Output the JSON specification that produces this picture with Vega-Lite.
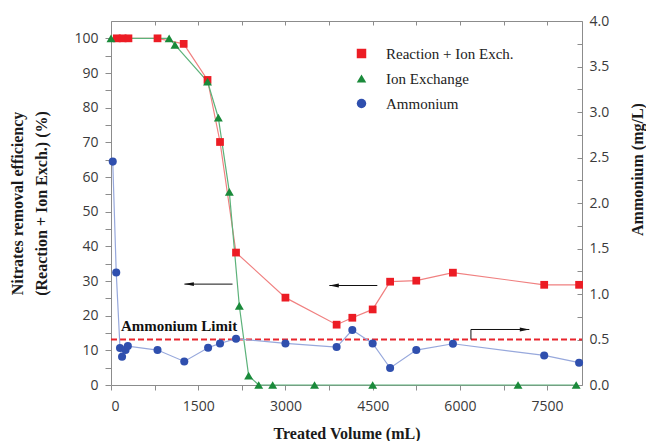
{
  "$schema": "https://vega.github.io/schema/vega-lite/v6.json",
  "width": 471,
  "height": 364,
  "autosize": {"type": "none"},
  "padding": {"left": 111, "top": 21, "right": 64, "bottom": 56},
  "background": "white",
  "config": {
    "view": {"stroke": null},
    "axis": {
      "domainColor": "#8c8c8c",
      "tickColor": "#8c8c8c",
      "labelFont": "Open Sans",
      "labelFontSize": 14,
      "labelColor": "#3a3a3a",
      "titleFont": "Liberation Serif",
      "titleFontSize": 16,
      "titleFontWeight": "bold",
      "titleColor": "#1a1a1a",
      "grid": false
    }
  },
  "datasets": {
    "reaction": [
      {"volume": 100, "efficiency": 100, "series": "Reaction + Ion Exch."},
      {"volume": 200, "efficiency": 100, "series": "Reaction + Ion Exch."},
      {"volume": 300, "efficiency": 100, "series": "Reaction + Ion Exch."},
      {"volume": 800, "efficiency": 100, "series": "Reaction + Ion Exch."},
      {"volume": 1250, "efficiency": 98.4, "series": "Reaction + Ion Exch."},
      {"volume": 1660, "efficiency": 88, "series": "Reaction + Ion Exch."},
      {"volume": 1875, "efficiency": 70.1, "series": "Reaction + Ion Exch."},
      {"volume": 2150, "efficiency": 38.2, "series": "Reaction + Ion Exch."},
      {"volume": 3000, "efficiency": 25.2, "series": "Reaction + Ion Exch."},
      {"volume": 3880, "efficiency": 17.4, "series": "Reaction + Ion Exch."},
      {"volume": 4150, "efficiency": 19.4, "series": "Reaction + Ion Exch."},
      {"volume": 4500, "efficiency": 21.8, "series": "Reaction + Ion Exch."},
      {"volume": 4800, "efficiency": 29.8, "series": "Reaction + Ion Exch."},
      {"volume": 5250, "efficiency": 30.1, "series": "Reaction + Ion Exch."},
      {"volume": 5880, "efficiency": 32.4, "series": "Reaction + Ion Exch."},
      {"volume": 7450, "efficiency": 28.9, "series": "Reaction + Ion Exch."},
      {"volume": 8050, "efficiency": 28.9, "series": "Reaction + Ion Exch."}
    ],
    "ionex": [
      {"volume": 0, "efficiency": 100, "series": "Ion Exchange"},
      {"volume": 1000, "efficiency": 100, "series": "Ion Exchange"},
      {"volume": 1100, "efficiency": 98.1, "series": "Ion Exchange"},
      {"volume": 1660, "efficiency": 87.5, "series": "Ion Exchange"},
      {"volume": 1846, "efficiency": 77.1, "series": "Ion Exchange"},
      {"volume": 2035, "efficiency": 55.7, "series": "Ion Exchange"},
      {"volume": 2207, "efficiency": 22.8, "series": "Ion Exchange"},
      {"volume": 2367, "efficiency": 2.7, "series": "Ion Exchange"},
      {"volume": 2540, "efficiency": 0, "series": "Ion Exchange"},
      {"volume": 2780, "efficiency": 0, "series": "Ion Exchange"},
      {"volume": 3500, "efficiency": 0, "series": "Ion Exchange"},
      {"volume": 4500, "efficiency": 0, "series": "Ion Exchange"},
      {"volume": 7000, "efficiency": 0, "series": "Ion Exchange"},
      {"volume": 8000, "efficiency": 0, "series": "Ion Exchange"}
    ],
    "ammonium": [
      {"volume": 30, "ammonium": 2.455, "series": "Ammonium"},
      {"volume": 90, "ammonium": 1.236, "series": "Ammonium"},
      {"volume": 155, "ammonium": 0.406, "series": "Ammonium"},
      {"volume": 190, "ammonium": 0.311, "series": "Ammonium"},
      {"volume": 250, "ammonium": 0.384, "series": "Ammonium"},
      {"volume": 290, "ammonium": 0.428, "series": "Ammonium"},
      {"volume": 800, "ammonium": 0.384, "series": "Ammonium"},
      {"volume": 1260, "ammonium": 0.259, "series": "Ammonium"},
      {"volume": 1670, "ammonium": 0.41, "series": "Ammonium"},
      {"volume": 1875, "ammonium": 0.457, "series": "Ammonium"},
      {"volume": 2150, "ammonium": 0.508, "series": "Ammonium"},
      {"volume": 3000, "ammonium": 0.457, "series": "Ammonium"},
      {"volume": 3880, "ammonium": 0.417, "series": "Ammonium"},
      {"volume": 4150, "ammonium": 0.604, "series": "Ammonium"},
      {"volume": 4500, "ammonium": 0.457, "series": "Ammonium"},
      {"volume": 4800, "ammonium": 0.187, "series": "Ammonium"},
      {"volume": 5250, "ammonium": 0.384, "series": "Ammonium"},
      {"volume": 5880, "ammonium": 0.453, "series": "Ammonium"},
      {"volume": 7450, "ammonium": 0.325, "series": "Ammonium"},
      {"volume": 8050, "ammonium": 0.245, "series": "Ammonium"}
    ],
    "leftArrows": [
      {"volume": 2090, "volume2": 1262, "efficiency": 29.1},
      {"volume": 4580, "volume2": 3755, "efficiency": 28.7}
    ],
    "leftHeads": [
      {"volume": 1262, "efficiency": 29.1},
      {"volume": 3755, "efficiency": 28.7}
    ],
    "rightArrow": [
      {"volume": 6190, "volume2": 6190, "ammonium": 0.5, "ammonium2": 0.61},
      {"volume": 6190, "volume2": 7194, "ammonium": 0.61, "ammonium2": 0.61}
    ],
    "rightHead": [
      {"volume": 7194, "ammonium": 0.61}
    ],
    "limit": [
      {"volume": 0, "volume2": 8100, "ammonium": 0.5}
    ],
    "label": [
      {"volume": 170, "efficiency": 17.1, "text": "Ammonium Limit"}
    ]
  },
  "layer": [
    {
      "encoding": {
        "x": {
          "field": "volume", "type": "quantitative",
          "scale": {"domain": [0, 8100], "nice": false, "zero": false},
          "axis": {
            "orient": "bottom", "title": "Treated Volume (mL)",
            "values": [0, 750, 1500, 2250, 3000, 3750, 4500, 5250, 6000, 6750, 7500],
            "format": "d",
            "labelExpr": "datum.value % 1500 === 0 ? datum.label : ''",
            "tickSize": 5, "labelPadding": 9, "titlePadding": 12
          }
        },
        "y": {
          "field": "efficiency", "type": "quantitative",
          "scale": {"domain": [0, 105], "nice": false, "zero": false},
          "axis": {
            "orient": "left",
            "title": ["Nitrates removal efficiency", "(Reaction + Ion Exch.) (%)"],
            "values": [0, 5, 10, 15, 20, 25, 30, 35, 40, 45, 50, 55, 60, 65, 70, 75, 80, 85, 90, 95, 100],
            "labelExpr": "datum.value % 10 === 0 ? datum.label : ''",
            "tickSize": 6, "labelPadding": 7, "titlePadding": 24, "titleLineHeight": 24
          }
        }
      },
      "layer": [
        {"data": {"name": "reaction"}, "mark": {"type": "line", "color": "#f08080", "strokeWidth": 1.2}},
        {"data": {"name": "ionex"}, "mark": {"type": "line", "color": "#5cb27a", "strokeWidth": 1.2}},
        {"data": {"name": "leftArrows"}, "mark": {"type": "rule", "color": "#111111", "strokeWidth": 1}, "encoding": {"x2": {"field": "volume2"}}},
        {"data": {"name": "leftHeads"}, "mark": {"type": "point", "shape": "M0,0L2,-0.4L2,0.4Z", "filled": true, "color": "#111111", "opacity": 1, "size": 90}},
        {"data": {"name": "label"}, "mark": {"type": "text", "align": "left", "baseline": "middle", "font": "Liberation Serif", "fontSize": 15, "fontWeight": "bold", "color": "#111111"}, "encoding": {"text": {"field": "text"}}},
        {
          "data": {"name": "reaction"},
          "mark": {"type": "point", "filled": true, "opacity": 1, "size": 60},
          "encoding": {
            "color": {"field": "series", "type": "nominal",
              "scale": {"domain": ["Reaction + Ion Exch.", "Ion Exchange", "Ammonium"], "range": ["#ec1c24", "#1a8a3a", "#2f4fae"]},
              "legend": {"orient": "none", "legendX": 243, "legendY": 25, "title": null, "labelFont": "Liberation Serif", "labelFontSize": 15, "labelColor": "#222222", "symbolSize": 90, "rowPadding": 9, "labelOffset": 17, "symbolStrokeWidth": 0}},
            "shape": {"field": "series", "type": "nominal",
              "scale": {"domain": ["Reaction + Ion Exch.", "Ion Exchange", "Ammonium"], "range": ["square", "triangle-up", "circle"]},
              "legend": {"orient": "none", "legendX": 243, "legendY": 25, "title": null, "labelFont": "Liberation Serif", "labelFontSize": 15, "labelColor": "#222222", "symbolSize": 90, "rowPadding": 9, "labelOffset": 17, "symbolStrokeWidth": 0}}
          }
        },
        {
          "data": {"name": "ionex"},
          "mark": {"type": "point", "filled": true, "opacity": 1, "size": 80},
          "encoding": {
            "color": {"field": "series", "type": "nominal"},
            "shape": {"field": "series", "type": "nominal"}
          }
        }
      ]
    },
    {
      "encoding": {
        "x": {
          "field": "volume", "type": "quantitative",
          "scale": {"domain": [0, 8100], "nice": false, "zero": false},
          "axis": {
            "orient": "top", "title": null, "labels": false,
            "values": [0, 750, 1500, 2250, 3000, 3750, 4500, 5250, 6000, 6750, 7500],
            "tickSize": -4
          }
        },
        "y": {
          "field": "ammonium", "type": "quantitative",
          "scale": {"domain": [0, 4], "nice": false, "zero": false},
          "axis": {
            "orient": "right", "title": "Ammonium (mg/L)",
            "values": [0, 0.25, 0.5, 0.75, 1, 1.25, 1.5, 1.75, 2, 2.25, 2.5, 2.75, 3, 3.25, 3.5, 3.75, 4],
            "format": ".1f",
            "labelExpr": "datum.value % 0.5 === 0 ? datum.label : ''",
            "tickSize": -5, "labelPadding": 12,
            "titleAngle": 270, "titleX": 55, "titleY": 148, "titleAlign": "center", "titleBaseline": "middle"
          }
        }
      },
      "layer": [
        {"data": {"name": "limit"}, "mark": {"type": "rule", "color": "#e8242c", "strokeWidth": 2, "strokeDash": [6, 3]}, "encoding": {"x2": {"field": "volume2"}}},
        {"data": {"name": "ammonium"}, "mark": {"type": "line", "color": "#97a8dc", "strokeWidth": 1.2}},
        {"data": {"name": "rightArrow"}, "mark": {"type": "rule", "color": "#111111", "strokeWidth": 1}, "encoding": {"x2": {"field": "volume2"}, "y2": {"field": "ammonium2"}}},
        {"data": {"name": "rightHead"}, "mark": {"type": "point", "shape": "M0,0L-2,-0.4L-2,0.4Z", "filled": true, "color": "#111111", "opacity": 1, "size": 90}},
        {
          "data": {"name": "ammonium"},
          "mark": {"type": "point", "filled": true, "opacity": 1, "size": 65},
          "encoding": {
            "color": {"field": "series", "type": "nominal"},
            "shape": {"field": "series", "type": "nominal"}
          }
        }
      ]
    }
  ],
  "resolve": {"scale": {"y": "independent"}, "axis": {"x": "independent", "y": "independent"}}
}
